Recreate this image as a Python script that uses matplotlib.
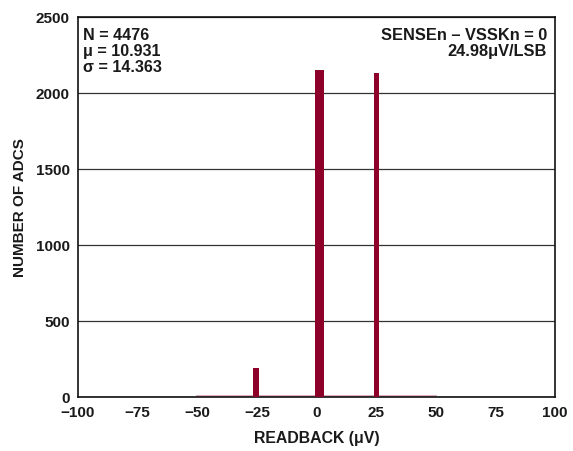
import matplotlib
matplotlib.use("Agg")
import matplotlib.pyplot as plt

plt.rcParams['font.family'] = ['Liberation Sans', 'DejaVu Sans']
plt.rcParams['font.weight'] = 'bold'

# data
bin_centers = [-25.4, 1.3, 25.1]
counts = [196, 2150, 2130]
bar_widths = [2.2, 3.6, 2.0]
floor_x = [-50, 50]
floor_y = [12, 12]

x_ticks = [-100, -75, -50, -25, 0, 25, 50, 75, 100]
x_labels = ['\u2212100', '\u221275', '\u221250', '\u221225', '0', '25', '50', '75', '100']
y_ticks = [0, 500, 1000, 1500, 2000, 2500]

bar_color = '#8c0029'

fig = plt.figure(figsize=(5.73, 4.51), dpi=100)
ax = fig.add_axes([0.136, 0.119, 0.833, 0.843])

ax.set_xlim(-100, 100)
ax.set_ylim(0, 2500)
ax.set_yticks(y_ticks)
ax.set_xticks(x_ticks)
ax.set_xticklabels(x_labels)
ax.yaxis.grid(True, color='#333333', linewidth=0.9)
ax.set_axisbelow(True)

ax.plot(floor_x, floor_y, color='#d9a3b0', linewidth=1.3, zorder=2)
ax.bar(bin_centers, counts, width=bar_widths, color=bar_color, edgecolor='none', zorder=3)

ax.tick_params(axis='both', length=0, labelsize=11, pad=6)
for lbl in ax.get_xticklabels() + ax.get_yticklabels():
    lbl.set_fontweight('bold')
    lbl.set_color('#1a1a1a')
for s in ax.spines.values():
    s.set_color('#111111')
    s.set_linewidth(1.2)

ax.set_xlabel('READBACK (\u03bcV)', fontsize=11.4, fontweight='bold', color='#1a1a1a', labelpad=8)
ax.set_ylabel('NUMBER OF ADCS', fontsize=11, fontweight='bold', color='#1a1a1a', labelpad=6)

ax.text(0.01, 0.972, 'N = 4476\n\u03bc = 10.931\n\u03c3 = 14.363', transform=ax.transAxes,
        ha='left', va='top', fontsize=11.6, fontweight='bold', color='#1a1a1a', linespacing=1.1)
ax.text(0.983, 0.972, 'SENSEn \u2013 VSSKn = 0\n24.98\u03bcV/LSB', transform=ax.transAxes,
        ha='right', va='top', fontsize=11.8, fontweight='bold', color='#1a1a1a', linespacing=1.1,
        multialignment='right')

fig.savefig('out.png', dpi=100)
